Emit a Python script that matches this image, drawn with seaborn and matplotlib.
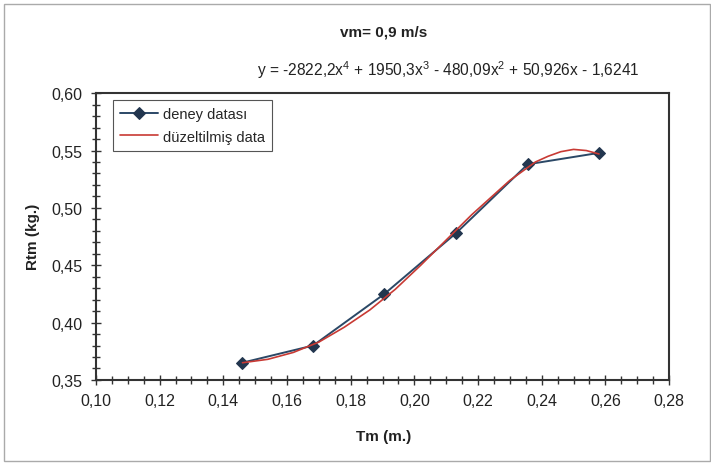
import numpy as np
import pandas as pd
from matplotlib import pyplot as plt
from matplotlib.ticker import MultipleLocator, FuncFormatter
from matplotlib.patches import Rectangle
import seaborn as sns

# measured points (deney datası)
tm = [0.1459, 0.1682, 0.1906, 0.2131, 0.2356, 0.2581]
rtm = [0.365, 0.380, 0.425, 0.478, 0.538, 0.548]

# smoothed curve (düzeltilmiş data)
fit_tm = [0.146, 0.154, 0.162, 0.170, 0.178, 0.186, 0.194, 0.202,
          0.210, 0.218, 0.226, 0.230, 0.234, 0.238, 0.242, 0.246,
          0.250, 0.254, 0.258]
fit_rtm = [0.365, 0.368, 0.374, 0.383, 0.396, 0.411, 0.429, 0.450,
           0.472, 0.494, 0.514, 0.524, 0.532, 0.540, 0.545, 0.549,
           0.551, 0.550, 0.547]

title = "vm= 0,9 m/s"
equation = (r"y = -2822,2x$^{\mathregular{4}}$ + 1950,3x$^{\mathregular{3}}$"
            r" - 480,09x$^{\mathregular{2}}$ + 50,926x - 1,6241")

sns.set_style("ticks")
plt.rcParams['font.family'] = ['Liberation Sans', 'DejaVu Sans']
plt.rcParams['mathtext.fontset'] = 'custom'
plt.rcParams['mathtext.rm'] = 'Liberation Sans'

fig = plt.figure(figsize=(7.11, 4.64), dpi=100)
ax = fig.add_axes([0.135, 0.179, 0.806, 0.618])

df = pd.DataFrame({'Tm': tm, 'Rtm': rtm})
df_fit = pd.DataFrame({'Tm': fit_tm, 'Rtm': fit_rtm})

sns.lineplot(data=df, x='Tm', y='Rtm', ax=ax, color='#2b4866', lw=1.4,
             marker='D', markersize=6, markerfacecolor='#22364f',
             markeredgecolor='#22364f', label='deney datası', sort=False)
sns.lineplot(data=df_fit, x='Tm', y='Rtm', ax=ax, color='#c83a34', lw=1.2,
             label='düzeltilmiş data', sort=False)

ax.set_xlim(0.10, 0.28)
ax.set_ylim(0.35, 0.60)
ax.xaxis.set_major_locator(MultipleLocator(0.02))
ax.xaxis.set_minor_locator(MultipleLocator(0.005))
ax.yaxis.set_major_locator(MultipleLocator(0.05))
ax.yaxis.set_minor_locator(MultipleLocator(0.01))
comma = FuncFormatter(lambda v, p: f"{v:.2f}".replace('.', ','))
ax.xaxis.set_major_formatter(comma)
ax.yaxis.set_major_formatter(comma)

ax.tick_params(which='both', direction='inout', colors='#333333',
               labelcolor='#222222', labelsize=11.5, width=1)
ax.tick_params(which='major', length=7, pad=6)
ax.tick_params(which='minor', length=6)

for s in ax.spines.values():
    s.set_visible(True)
    s.set_color('#333333')
    s.set_linewidth(1.5)

ax.set_xlabel('')
ax.set_ylabel('')
fig.text(0.539, 0.058, 'Tm (m.)', ha='center', va='center',
         fontsize=11, fontweight='bold', color='#222222')
fig.text(0.046, 0.489, 'Rtm (kg.)', ha='center', va='center', rotation=90,
         fontsize=11, fontweight='bold', color='#222222')
fig.text(0.539, 0.931, title, ha='center', va='center',
         fontsize=11, fontweight='bold', color='#222222')
fig.text(0.631, 0.849, equation, ha='center', va='center',
         fontsize=11.2, color='#222222')

leg = ax.legend(loc='upper left', bbox_to_anchor=(0.03, 0.978), fontsize=10.5,
                frameon=True, fancybox=False, framealpha=1, edgecolor='#555555',
                handlelength=2.6, borderpad=0.5, labelspacing=0.6,
                handletextpad=0.3, borderaxespad=0)
leg.get_frame().set_linewidth(0.8)

# outer chart border
fig.patches.append(Rectangle((0.006, 0.004), 0.992, 0.985, transform=fig.transFigure,
                             fill=False, edgecolor='#aaaaaa', lw=1))

fig.savefig('out.png', dpi=100)
